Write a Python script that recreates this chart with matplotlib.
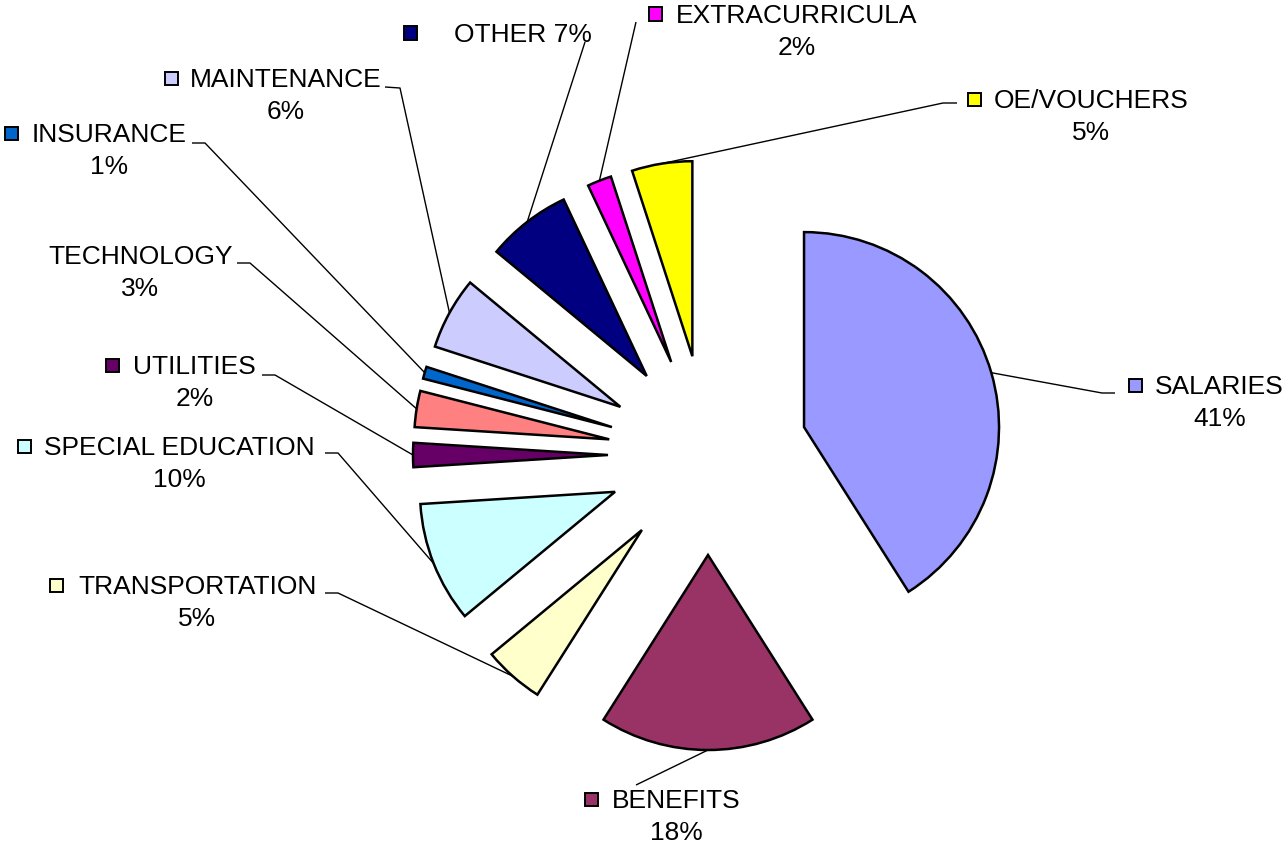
import matplotlib
matplotlib.use("Agg")
import math
import matplotlib.pyplot as plt
from matplotlib.patches import Rectangle

# Budget shares by spending category (percent of total)
categories = ["SALARIES", "BENEFITS", "TRANSPORTATION", "SPECIAL EDUCATION",
              "UTILITIES", "TECHNOLOGY", "INSURANCE", "MAINTENANCE",
              "OTHER", "EXTRACURRICULA", "OE/VOUCHERS"]
shares = [41, 18, 5, 10, 2, 3, 1, 6, 7, 2, 5]
colors = ["#9999FF", "#993366", "#FFFFCC", "#CCFFFF", "#660066", "#FF8080",
          "#0066CC", "#CCCCFF", "#000080", "#FF00FF", "#FFFF00"]

# Canvas geometry (pixels)
W, H = 1285, 846
CX, CY, R = 708, 455, 195          # pie centre and radius
EXPLODE = 100 / R                   # every slice pulled out by the same gap


def to_data(px, py):
    """Pixel position (origin top-left) -> axes data units (1 unit = pie radius)."""
    return (px - CX) / R, (CY - py) / R


# Label layout: left edge of the name text, vertical middle of the name line,
# left edge of the colour key square, and the leader line's start/knee points
label_left = [1155, 612, 78, 44, 133, 48, 32, 190, 454, 676, 994]
label_mid_y = [385, 799, 585, 446, 365, 255, 133, 78, 33, 14, 99]
key_left = [1129, 585, 50, 18, 106, None, 5, 165, 404, 649, 968]
leader_pts = [
    [(1115, 393), (1102, 393)],
    [(636, 785)],
    [(325, 593), (338, 593)],
    [(325, 453), (338, 453)],
    [(262, 375), (275, 375)],
    [(237, 263), (250, 263)],
    [(192, 143), (205, 143)],
    [(385, 87), (400, 88)],
    [(585, 42)],
    [(636, 22)],
    [(957, 103), (943, 103)],
]
single_line = {"OTHER"}

fig = plt.figure(figsize=(W / 100, H / 100), dpi=100)
fig.patch.set_facecolor("white")
ax = fig.add_axes([0, 0, 1, 1])

wedges, _ = ax.pie(
    shares, colors=colors, radius=1, center=(0, 0),
    explode=[EXPLODE] * len(shares), startangle=90, counterclock=False,
    wedgeprops=dict(edgecolor="black", linewidth=1.8, zorder=3),
)
ax.set_xlim(-CX / R, (W - CX) / R)
ax.set_ylim((CY - H) / R, CY / R)
ax.set_aspect("auto")
ax.axis("off")

FONT = dict(family="Liberation Sans", fontsize=19, color="black")

for name, val, col, w, lx, my, kx, pts in zip(
        categories, shares, colors, wedges, label_left, label_mid_y,
        key_left, leader_pts):
    pct = f"{val}%"
    txt = f"{name} {pct}" if name in single_line else f"{name}\n{pct}"
    ax.text(*to_data(lx, my - 10.5), txt, ha="left", va="top",
            multialignment="center", linespacing=1.43, zorder=5, **FONT)

    if kx is not None:
        x0, y0 = to_data(kx, my + 6.5)
        ax.add_patch(Rectangle((x0, y0), 13 / R, 13 / R, facecolor=col,
                               edgecolor="black", linewidth=1.4, zorder=5))

    # leader line ends at the middle of the slice's outer arc
    mid = math.radians((w.theta1 + w.theta2) / 2)
    ex = w.center[0] + w.r * math.cos(mid)
    ey = w.center[1] + w.r * math.sin(mid)
    xs = [to_data(*p)[0] for p in pts] + [ex]
    ys = [to_data(*p)[1] for p in pts] + [ey]
    ax.plot(xs, ys, color="black", linewidth=1.0, zorder=2,
            solid_capstyle="butt")

fig.savefig("out.png", dpi=100, facecolor="white")
